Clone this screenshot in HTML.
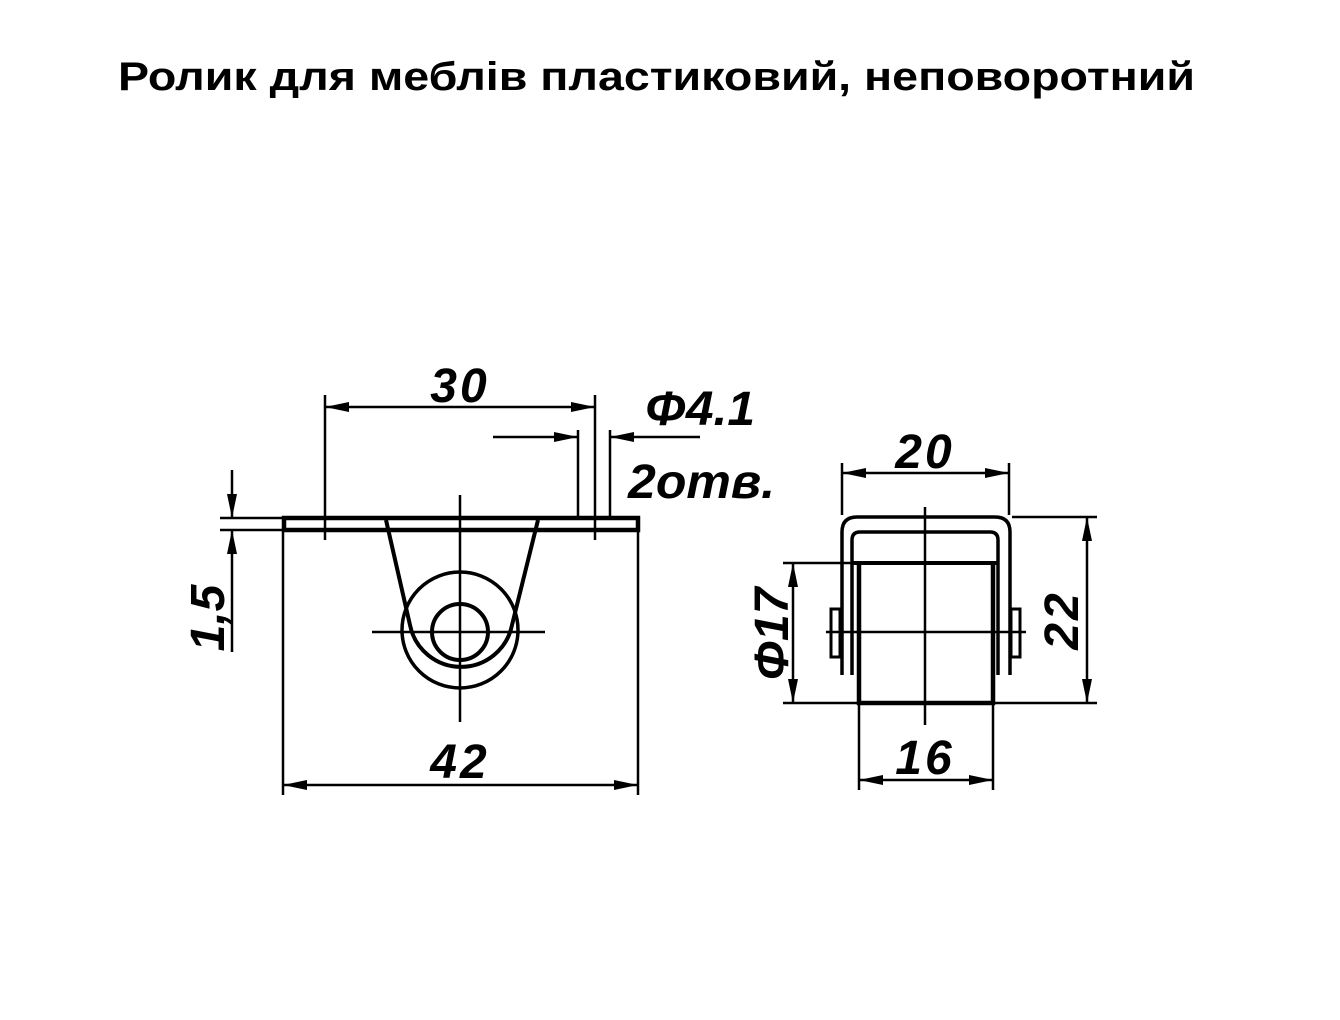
<!DOCTYPE html>
<html><head><meta charset="utf-8"><style>
html,body{margin:0;padding:0;background:#fff;width:1340px;height:1020px;overflow:hidden}
svg{display:block}
</style></head><body>
<svg width="1340" height="1020" viewBox="0 0 1340 1020" xmlns="http://www.w3.org/2000/svg">
<defs>
<marker id="a" viewBox="0 0 24 10" refX="24" refY="5" markerWidth="24" markerHeight="10" markerUnits="userSpaceOnUse" orient="auto-start-reverse"><path d="M0,0 L24,5 L0,10 z" fill="#000"/></marker>
</defs>
<text x="118" y="90" font-family="Liberation Sans, sans-serif" font-size="40" font-weight="bold" textLength="1077" lengthAdjust="spacingAndGlyphs" fill="#000">Ролик для меблів пластиковий, неповоротний</text>
<g stroke="#000" fill="none" stroke-width="2.5">
<!-- left view -->
<rect x="284" y="518" width="354" height="12" stroke-width="4.5"/>
<line x1="325" y1="395" x2="325" y2="540"/>
<line x1="595" y1="395" x2="595" y2="540"/>
<line x1="325" y1="407" x2="595" y2="407" marker-start="url(#a)" marker-end="url(#a)"/>
<line x1="578" y1="430" x2="578" y2="517"/>
<line x1="610" y1="430" x2="610" y2="517"/>
<line x1="493" y1="437" x2="578" y2="437" marker-end="url(#a)"/>
<line x1="700" y1="437" x2="610" y2="437" marker-end="url(#a)"/>
<line x1="220" y1="518" x2="283" y2="518"/>
<line x1="220" y1="530" x2="283" y2="530"/>
<line x1="232" y1="470" x2="232" y2="518" marker-end="url(#a)"/>
<line x1="232" y1="652" x2="232" y2="530" marker-end="url(#a)"/>
<path d="M386,520 L410,625 A52,52 0 0 0 512,625 L538,520" stroke-width="4"/>
<circle cx="460" cy="630" r="58" stroke-width="3.5"/>
<circle cx="460" cy="632" r="28" stroke-width="4"/>
<line x1="460" y1="495" x2="460" y2="722"/>
<line x1="372" y1="632" x2="545" y2="632"/>
<line x1="283" y1="532" x2="283" y2="795"/>
<line x1="638" y1="532" x2="638" y2="795"/>
<line x1="283" y1="785" x2="638" y2="785" marker-start="url(#a)" marker-end="url(#a)"/>
<!-- right view -->
<path d="M842,675 L842,532 Q842,517 857,517 L995,517 Q1010,517 1010,532 L1010,675" stroke-width="3.5"/>
<path d="M852,675 L852,540 Q852,532 860,532 L990,532 Q998,532 998,540 L998,675" stroke-width="3.5"/>
<line x1="852" y1="563" x2="998" y2="563" stroke-width="4"/>
<path d="M859,563 L859,703 L993,703 L993,563" stroke-width="4.5"/>
<rect x="831" y="609" width="9" height="48" stroke-width="3"/>
<rect x="1011" y="609" width="9" height="48" stroke-width="3"/>
<line x1="925" y1="507" x2="925" y2="725"/>
<line x1="826" y1="632" x2="1026" y2="632"/>
<line x1="842" y1="463" x2="842" y2="515"/>
<line x1="1009" y1="463" x2="1009" y2="515"/>
<line x1="842" y1="473" x2="1009" y2="473" marker-start="url(#a)" marker-end="url(#a)"/>
<line x1="783" y1="563" x2="858" y2="563"/>
<line x1="783" y1="703" x2="858" y2="703"/>
<line x1="793" y1="563" x2="793" y2="703" marker-start="url(#a)" marker-end="url(#a)"/>
<line x1="1012" y1="517" x2="1097" y2="517"/>
<line x1="995" y1="703" x2="1097" y2="703"/>
<line x1="1087" y1="517" x2="1087" y2="703" marker-start="url(#a)" marker-end="url(#a)"/>
<line x1="859" y1="705" x2="859" y2="790"/>
<line x1="993" y1="705" x2="993" y2="790"/>
<line x1="859" y1="780" x2="993" y2="780" marker-start="url(#a)" marker-end="url(#a)"/>
</g>
<g font-family="Liberation Sans, sans-serif" font-style="italic" font-weight="bold" font-size="48" fill="#000">
<text x="460" y="402" text-anchor="middle" letter-spacing="3">30</text>
<text x="645" y="425" textLength="110" lengthAdjust="spacingAndGlyphs">Φ4.1</text>
<text x="628" y="498" textLength="147" lengthAdjust="spacingAndGlyphs">2отв.</text>
<text x="460" y="778" text-anchor="middle" letter-spacing="3">42</text>
<text transform="translate(224,618) rotate(-90)" text-anchor="middle">1,5</text>
<text x="925" y="468" text-anchor="middle" letter-spacing="3">20</text>
<text x="925" y="774" text-anchor="middle" letter-spacing="3">16</text>
<text transform="translate(788,634) rotate(-90)" text-anchor="middle">Φ17</text>
<text transform="translate(1078,620) rotate(-90)" text-anchor="middle" letter-spacing="3">22</text>
</g>
</svg>
</body></html>
